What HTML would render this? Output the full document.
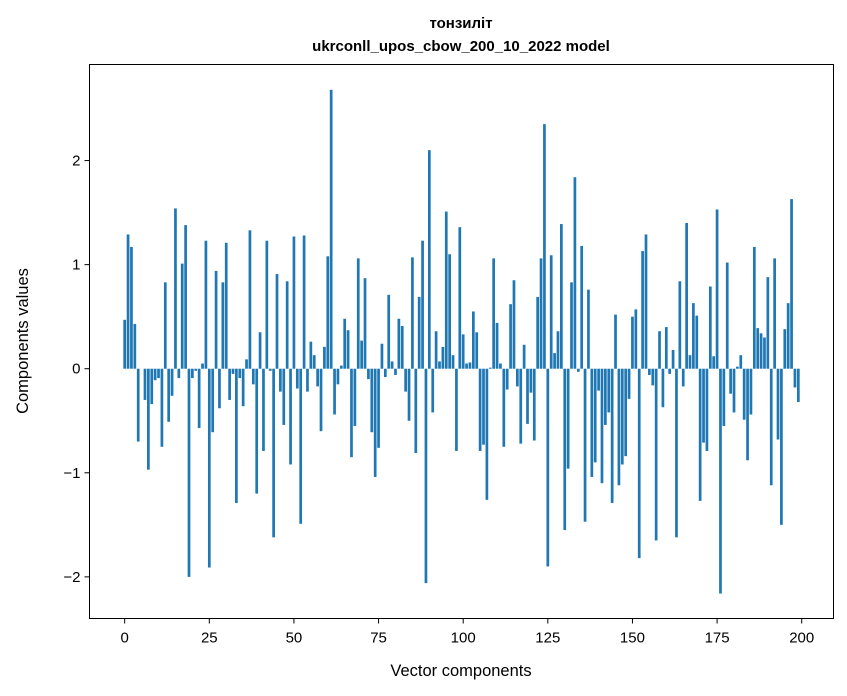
<!DOCTYPE html>
<html><head><meta charset="utf-8"><style>
body{margin:0;background:#fff;}
svg{display:block;font-family:"Liberation Sans",sans-serif;}
</style></head><body>
<svg id="chart" width="847" height="696">
<text x="461" y="28" text-anchor="middle" font-size="15" font-weight="bold">тонзиліт</text>
<text x="461" y="51" text-anchor="middle" font-size="15" font-weight="bold">ukrconll_upos_cbow_200_10_2022 model</text>
<g id="bars"></g>
<rect x="89.5" y="64.5" width="744" height="554" fill="none" stroke="#000" stroke-width="1"/>
<g id="xticks"></g>
<g id="yticks"></g>
<text x="461" y="676" text-anchor="middle" font-size="16.5">Vector components</text>
<text transform="translate(28,341) rotate(-90)" text-anchor="middle" font-size="16.5">Components values</text>
</svg>
<script>
const values = [0.47,1.29,1.17,0.43,-0.70,0.0,-0.30,-0.97,-0.34,-0.11,-0.09,-0.75,0.83,-0.51,-0.26,1.54,-0.09,1.01,1.38,-2.0,
-0.09,-0.02,-0.57,0.05,1.23,-1.91,-0.61,0.94,-0.38,0.83,1.21,-0.30,-0.05,-1.29,-0.09,-0.36,0.09,1.33,-0.15,-1.20,
0.35,-0.79,1.23,-0.02,-1.62,0.91,-0.22,-0.54,0.84,-0.92,1.27,-0.19,-1.49,1.28,-0.22,0.26,0.13,-0.17,-0.60,0.21,
1.08,2.68,-0.44,-0.15,0.03,0.48,0.37,-0.85,-0.55,1.06,0.27,0.87,-0.10,-0.61,-1.04,-0.76,0.24,-0.08,0.71,0.07,
-0.06,0.48,0.41,-0.22,-0.50,1.07,-0.81,0.69,1.23,-2.06,2.10,-0.42,0.36,0.07,0.21,1.51,1.10,0.13,-0.79,1.36,
0.33,0.05,0.06,0.55,0.35,-0.79,-0.73,-1.26,0.01,1.06,0.44,0.05,-0.75,-0.20,0.62,0.85,-0.17,-0.72,0.23,-0.53,
-0.23,-0.69,0.69,1.06,2.35,-1.90,1.09,0.15,0.36,1.39,-1.55,-0.96,0.83,1.84,-0.03,1.18,-1.47,0.76,-1.04,-0.90,
-0.21,-1.10,-0.54,-0.42,-1.29,0.52,-1.12,-0.92,-0.84,-0.29,0.50,0.57,-1.82,1.13,1.29,-0.06,-0.16,-1.65,0.36,-0.37,
0.40,-0.05,0.18,-1.62,0.84,-0.17,1.40,0.13,0.63,0.51,-1.27,-0.71,-0.79,0.79,0.12,1.53,-2.16,-0.55,1.02,-0.24,
-0.42,0.02,0.13,-0.49,-0.88,-0.44,1.17,0.39,0.34,0.30,0.88,-1.12,1.06,-0.68,-1.50,0.38,0.63,1.63,-0.18,-0.32];
const xTickValues = [0,25,50,75,100,125,150,175,200];
const yTickValues = [-2,-1,0,1,2];
const yTickLabels = ["\u22122","\u22121","0","1","2"];

const NS="http://www.w3.org/2000/svg";
const xMin=-10.39, xMax=209.39, yMin=-2.40, yMax=2.923;
const L=89.5, R=833.5, T=64.5, B=618.5;
function xs(v){return L+(v-xMin)/(xMax-xMin)*(R-L);}
function ys(v){return B-(v-yMin)/(yMax-yMin)*(B-T);}
const bars=document.getElementById('bars');
values.forEach((v,i)=>{
  const r=document.createElementNS(NS,'rect');
  const x0=xs(i-0.4), x1=xs(i+0.4);
  r.setAttribute('x',x0);r.setAttribute('width',x1-x0);
  r.setAttribute('y',Math.min(ys(v),ys(0)));r.setAttribute('height',Math.abs(ys(v)-ys(0)));
  r.setAttribute('fill','#1f77b4');
  
  
  bars.appendChild(r);
});
const xg=document.getElementById('xticks');
xTickValues.forEach(t=>{
  const l=document.createElementNS(NS,'line');
  l.setAttribute('x1',xs(t));l.setAttribute('x2',xs(t));l.setAttribute('y1',B);l.setAttribute('y2',B+5);l.setAttribute('stroke','#000');
  
  
  xg.appendChild(l);
  const tx=document.createElementNS(NS,'text');
  tx.setAttribute('x',xs(t));tx.setAttribute('y',B+24);tx.setAttribute('text-anchor','middle');tx.setAttribute('font-size','15');
  tx.textContent=t;
  
  
  xg.appendChild(tx);
});
const yg=document.getElementById('yticks');
yTickValues.forEach((t,k)=>{
  const l=document.createElementNS(NS,'line');
  l.setAttribute('x1',L-5);l.setAttribute('x2',L);l.setAttribute('y1',ys(t));l.setAttribute('y2',ys(t));l.setAttribute('stroke','#000');
  
  
  yg.appendChild(l);
  const tx=document.createElementNS(NS,'text');
  tx.setAttribute('x',L-9);tx.setAttribute('y',ys(t)+5);tx.setAttribute('text-anchor','end');tx.setAttribute('font-size','15');
  tx.textContent=yTickLabels[k];
  
  
  yg.appendChild(tx);
});
</script>
</body></html>
